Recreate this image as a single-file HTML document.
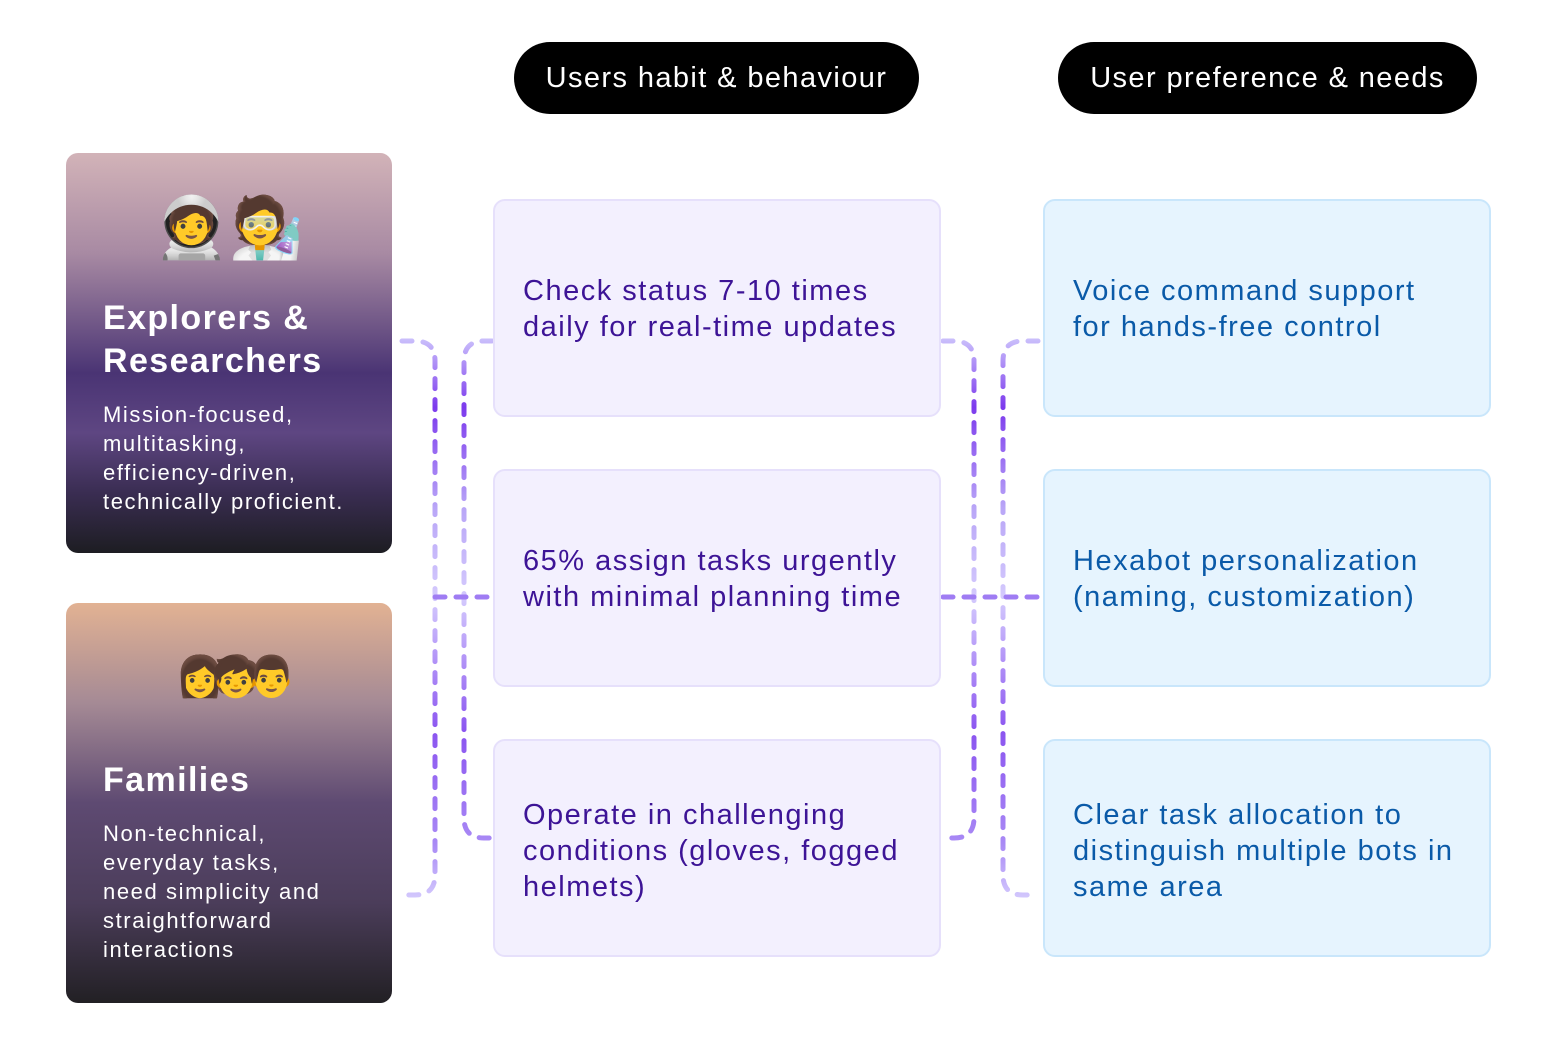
<!DOCTYPE html>
<html><head><meta charset="utf-8"><style>
body{margin:0;width:1556px;height:1046px;background:#fff;position:relative;overflow:hidden;font-family:"Liberation Sans",sans-serif}
.pill{position:absolute;background:#000;color:#fff;border-radius:36px;font-size:29px;text-align:center;line-height:72px;height:72px;letter-spacing:1.4px}
.card{position:absolute;left:66px;width:326px;height:400px;border-radius:12px;color:#fff;box-sizing:border-box;padding-left:37px}
.card .em{position:absolute;top:32px;left:0;width:326px;text-align:center;font-size:60px;line-height:85px}
.card h2{position:absolute;left:37px;margin:0;font-size:34px;line-height:43px;font-weight:bold;letter-spacing:1.4px;white-space:nowrap}
.card p{position:absolute;left:37px;margin:0;font-size:22px;line-height:29px;letter-spacing:1.6px;white-space:nowrap}
.box{position:absolute;width:448px;height:218px;border-radius:12px;box-sizing:border-box;padding:72px 0 0 28px;font-size:29px;line-height:36px;letter-spacing:1.5px;white-space:nowrap}
.m{left:493px;background:#f3f0fe;border:2px solid #e6e0fb;color:#3d1496}
.r{left:1043px;background:#e6f4fe;border:2px solid #c9e6fb;color:#0a5aa8}
</style></head><body>
<div class="pill" style="left:514px;top:42px;width:405px">Users habit &amp; behaviour</div>
<div class="pill" style="left:1058px;top:42px;width:419px">User preference &amp; needs</div>

<div class="card" style="top:153px;background:linear-gradient(180deg,#d2b3b8 0%,#a88aa3 25%,#4a3474 55%,#5e4682 70%,#3a2d52 85%,#1d1d22 100%)">
<div class="em">🧑‍🚀🧑‍🔬</div>
<h2 style="top:144px">Explorers &amp;<br>Researchers</h2>
<p style="top:247px">Mission-focused,<br>multitasking,<br>efficiency-driven,<br>technically proficient.</p>
</div>
<div class="card" style="top:603px;background:linear-gradient(180deg,#e2b293 0%,#a58a95 25%,#5e4a72 50%,#4b3d5a 75%,#222024 100%)">
<div class="em" style="font-size:40px;letter-spacing:-14px">👩🧒👨</div>
<h2 style="top:156px">Families</h2>
<p style="top:216px">Non-technical,<br>everyday tasks,<br>need simplicity and<br>straightforward<br>interactions</p>
</div>

<svg style="position:absolute;left:0;top:0" width="1556" height="1046">
<defs><linearGradient id="g" x1="0" y1="340" x2="0" y2="900" gradientUnits="userSpaceOnUse">
<stop offset="0" stop-color="#c9bdfb"/><stop offset="0.12" stop-color="#7c3aed"/><stop offset="0.3" stop-color="#b9a6f7"/><stop offset="0.46" stop-color="#d4cafd"/><stop offset="0.7" stop-color="#8b55f0"/><stop offset="0.9" stop-color="#a98af5"/><stop offset="1" stop-color="#d4cafd"/></linearGradient></defs>
<g fill="none" stroke="url(#g)" stroke-width="5" stroke-linecap="round" stroke-dasharray="10 11">
<path d="M402 341 H415 Q435 341 435 361 V875 Q435 895 415 895 H402"/>
<path d="M492 341 H484 Q464 341 464 361 V818 Q464 838 484 838 H492"/>
<path d="M943 341 H954 Q974 341 974 361 V818 Q974 838 954 838 H943"/>
<path d="M1038 341 H1023 Q1003 341 1003 361 V875 Q1003 895 1023 895 H1038"/>
</g>
<g stroke="#9f7cf3" stroke-width="5" stroke-linecap="round" stroke-dasharray="10 11" fill="none">
<path d="M435 597 H492"/><path d="M943 597 H1040"/>
</g>
</svg>

<div class="box m" style="top:199px">Check status 7-10 times<br>daily for real-time updates</div>
<div class="box m" style="top:469px">65% assign tasks urgently<br>with minimal planning time</div>
<div class="box m" style="top:739px;padding-top:56px">Operate in challenging<br>conditions (gloves, fogged<br>helmets)</div>
<div class="box r" style="top:199px">Voice command support<br>for hands-free control</div>
<div class="box r" style="top:469px">Hexabot personalization<br>(naming, customization)</div>
<div class="box r" style="top:739px;padding-top:56px">Clear task allocation to<br>distinguish multiple bots in<br>same area</div>
</body></html>
